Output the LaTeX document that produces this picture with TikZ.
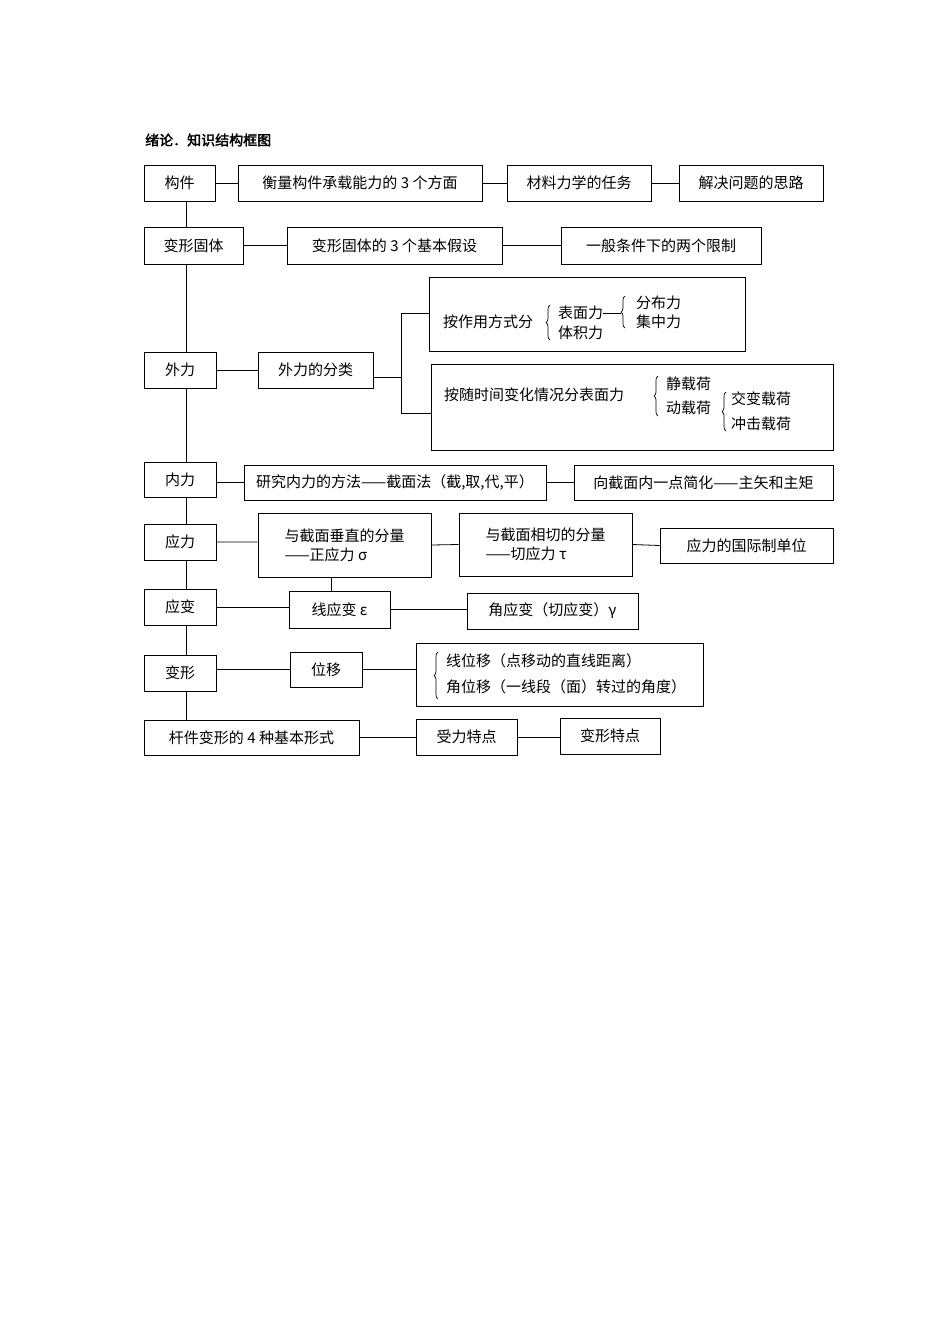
\documentclass[tikz,border=0pt]{standalone}
\usepackage{fontspec}
\setmainfont{Noto Sans CJK SC}
\newfontfamily\titlefont[FakeBold=2]{Noto Sans CJK SC}
\usetikzlibrary{decorations.pathreplacing,calc}
\begin{document}
\begin{tikzpicture}[x=1pt,y=-1pt,
  box/.style={draw,line width=0.8pt,inner sep=0pt,font=\fontsize{15}{19}\selectfont},
  txt/.style={inner sep=0pt,font=\fontsize{15}{19}\selectfont},
  ln/.style={line width=0.8pt},
  br/.style={line width=0.7pt,decorate,decoration={brace,amplitude=4pt}}]
\useasboundingbox[fill=white] (0,0) rectangle (950,1344);
\node[inner sep=0pt,anchor=west,font=\fontsize{14}{16}\titlefont] (title) at (145,140) {绪论．知识结构框图};
% row 1
\node[box,minimum width=71,minimum height=36] (gj) at (179.5,183) {构件};
\node[box,minimum width=244,minimum height=36] (hl) at (360,183) {衡量构件承载能力的 3 个方面};
\node[box,minimum width=144,minimum height=36] (cl) at (579,183) {材料力学的任务};
\node[box,minimum width=144,minimum height=36] (jj) at (751,183) {解决问题的思路};
\draw[ln] (gj.east) -- (hl.west) (hl.east) -- (cl.west) (cl.east) -- (jj.west);
% row 2
\node[box,minimum width=99,minimum height=37] (bx) at (193.5,245.5) {变形固体};
\node[box,minimum width=215,minimum height=37] (js) at (394.5,245.5) {变形固体的 3 个基本假设};
\node[box,minimum width=200,minimum height=37] (xz) at (661,245.5) {一般条件下的两个限制};
\draw[ln] (bx.east) -- (js.west) (js.east) -- (xz.west);
% 外力
\node[box,minimum width=72,minimum height=36] (wl) at (180,370) {外力};
\node[box,minimum width=115,minimum height=36] (fl) at (315.5,370) {外力的分类};
\node[box,minimum width=316,minimum height=74] (b1) at (587,314) {};
\node[box,minimum width=402,minimum height=86] (b2) at (632,407) {};
\coordinate (bj) at (401,377);
\draw[ln] (wl.east) -- (fl.west);
\draw[ln] (fl.east |- bj) -- (bj);
\draw[ln] (401,313) -- (401,413);
\draw[ln] (401,313) -- (b1.west |- 0,313);
\draw[ln] (401,413) -- (b2.west |- 0,413);
% box1 contents
\node[txt,anchor=west] (t1) at (443,322) {按作用方式分};
\draw[br] (550,340) -- (550,305);
\node[txt,anchor=west] (t2) at (558,313) {表面力};
\node[txt,anchor=west] (t3) at (558,333) {体积力};
\draw[br] (625,328) -- (625,296);
\draw[ln] (t2.east) -- (621,313);
\node[txt,anchor=west] (t4) at (636,303) {分布力};
\node[txt,anchor=west] (t5) at (636,322) {集中力};
% box2 contents
\node[txt,anchor=west] (u1) at (444,395) {按随时间变化情况分表面力};
\draw[br] (658,416) -- (658,376);
\node[txt,anchor=west] (u2) at (666,384) {静载荷};
\node[txt,anchor=west] (u3) at (666,408) {动载荷};
\draw[br] (726,431) -- (726,392);
\node[txt,anchor=west] (u4) at (731,399) {交变载荷};
\node[txt,anchor=west] (u5) at (731,424) {冲击载荷};
% 内力
\node[box,minimum width=72,minimum height=35] (nl) at (180,479.5) {内力};
\node[box,minimum width=302,minimum height=35] (yj) at (395,482.5) {研究内力的方法——截面法（截,取,代,平）};
\node[box,minimum width=259,minimum height=35] (xj) at (703.5,482.5) {向截面内一点简化——主矢和主矩};
\draw[ln] (nl.east |- yj.west) -- (yj.west) (yj.east) -- (xj.west);
% 应力
\node[box,minimum width=72,minimum height=36] (yl) at (180,542) {应力};
\node[box,minimum width=173,minimum height=64,align=left] (cz) at (344.5,545) {与截面垂直的分量\\——正应力 σ};
\node[box,minimum width=173,minimum height=63,align=left] (qq) at (545.5,544.5) {与截面相切的分量\\——切应力 τ};
\node[box,minimum width=173,minimum height=35] (dw) at (746.5,545.5) {应力的国际制单位};
\draw[ln] (yl.east) -- (yl.east -| cz.west) (cz.east) -- (qq.west) (qq.east) -- (dw.west);
% 应变
\node[box,minimum width=72,minimum height=36] (yb) at (180,607) {应变};
\node[box,minimum width=101,minimum height=37] (xyb) at (339.5,609.5) {线应变 ε};
\node[box,minimum width=171,minimum height=36] (jyb) at (552.5,611) {角应变（切应变）γ};
\draw[ln] (yb.east) -- (yb.east -| xyb.west) (xyb.east) -- (xyb.east -| jyb.west);
\draw[ln] (cz.south -| 331,0) -- (xyb.north -| 331,0);
% 变形
\node[box,minimum width=72,minimum height=36] (bxg) at (180,673) {变形};
\node[box,minimum width=72,minimum height=35] (wy) at (326,669.5) {位移};
\node[box,minimum width=287,minimum height=63] (wyb) at (559.5,674.5) {};
\draw[ln] (bxg.east |- wy.west) -- (wy.west) (wy.east) -- (wy.east -| wyb.west);
\draw[br] (438,699) -- (438,652);
\node[txt,anchor=west] (v1) at (446,661) {线位移（点移动的直线距离）};
\node[txt,anchor=west] (v2) at (446,687) {角位移（一线段（面）转过的角度）};
% 杆件
\node[box,minimum width=215,minimum height=35] (gx) at (251.5,737.5) {杆件变形的 4 种基本形式};
\node[box,minimum width=101,minimum height=36] (sl) at (466.5,737) {受力特点};
\node[box,minimum width=100,minimum height=36] (bt) at (610,736) {变形特点};
\draw[ln] (gx.east |- sl.west) -- (sl.west) (sl.east) -- (sl.east -| bt.west);
% trunk
\draw[ln] (gj.south -| 186,0) -- (bx.north -| 186,0);
\draw[ln] (bx.south -| 186,0) -- (wl.north -| 186,0);
\draw[ln] (wl.south -| 186,0) -- (nl.north -| 186,0);
\draw[ln] (nl.south -| 186,0) -- (yl.north -| 186,0);
\draw[ln] (yl.south -| 186,0) -- (yb.north -| 186,0);
\draw[ln] (yb.south -| 186,0) -- (bxg.north -| 186,0);
\draw[ln] (bxg.south -| 186,0) -- (gx.north -| 186,0);
\end{tikzpicture}
\end{document}
